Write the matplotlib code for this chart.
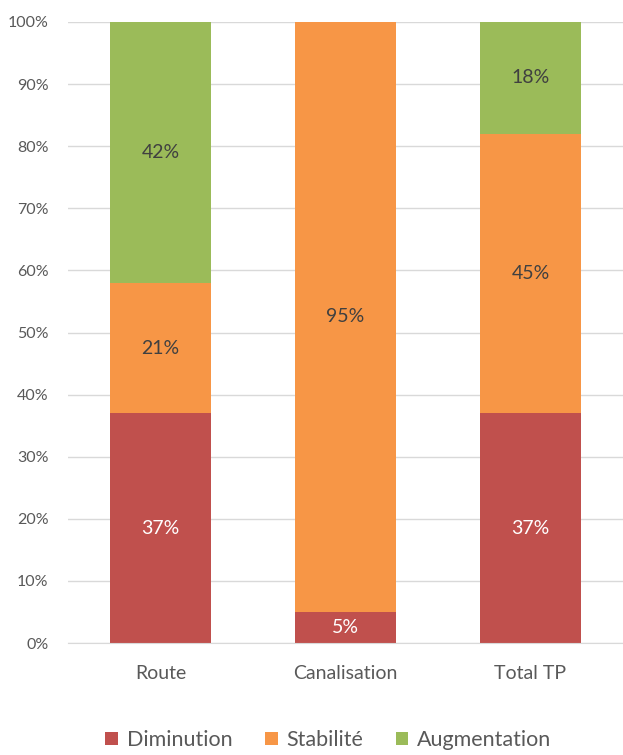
import matplotlib

matplotlib.use("Agg")

import matplotlib.pyplot as plt
import numpy as np
from matplotlib.ticker import FuncFormatter

categories = ["Route", "Canalisation", "Total TP"]
series_names = ["Diminution", "Stabilité", "Augmentation"]
diminution = [37, 5, 37]
stabilite = [21, 95, 45]
augmentation = [42, 0, 18]

colors = ["#C0504D", "#F79646", "#9BBB59"]
label_colors = ["white", "#404040", "#404040"]

plt.rcParams["font.family"] = ["Lato", "DejaVu Sans"]

fig = plt.figure(figsize=(6.23, 7.55), dpi=100)
ax = fig.add_axes([0.109, 0.1483, 0.891, 0.8226])

x = np.arange(len(categories))
bottom = np.zeros(len(categories))
for name, values, color, lc in zip(series_names, [diminution, stabilite, augmentation], colors, label_colors):
    vals = np.array(values, dtype=float)
    ax.bar(x, vals, bottom=bottom, width=0.55, color=color, label=name, zorder=2)
    for xi, b, v in zip(x, bottom, vals):
        if v > 0:
            ax.text(xi, b + v / 2, f"{int(v)}%", ha="center", va="center",
                    color=lc, fontsize=14, zorder=3)
    bottom += vals

ax.set_xlim(-0.5, len(categories) - 0.5)
ax.set_ylim(0, 100)
ax.set_yticks(np.arange(0, 101, 10))
ax.yaxis.set_major_formatter(FuncFormatter(lambda v, _: f"{int(v)}%"))
ax.grid(axis="y", color="#D9D9D9", linewidth=1.0, zorder=0)
for side in ["top", "right", "left"]:
    ax.spines[side].set_visible(False)
ax.spines["bottom"].set_color("#D9D9D9")
ax.tick_params(axis="y", length=0, labelsize=11.5, labelcolor="#595959", pad=14)
ax.tick_params(axis="x", length=0, labelsize=14, labelcolor="#595959", pad=16)
ax.set_xticks(x, categories)

fig.legend(loc="center", bbox_to_anchor=(0.527, 1 - 740 / 755), ncol=3, frameon=False,
           fontsize=15.5, labelcolor="#595959", handlelength=0.6, handleheight=0.6,
           handletextpad=0.4, columnspacing=1.5)

fig.savefig("out.png", dpi=100, facecolor="white")
